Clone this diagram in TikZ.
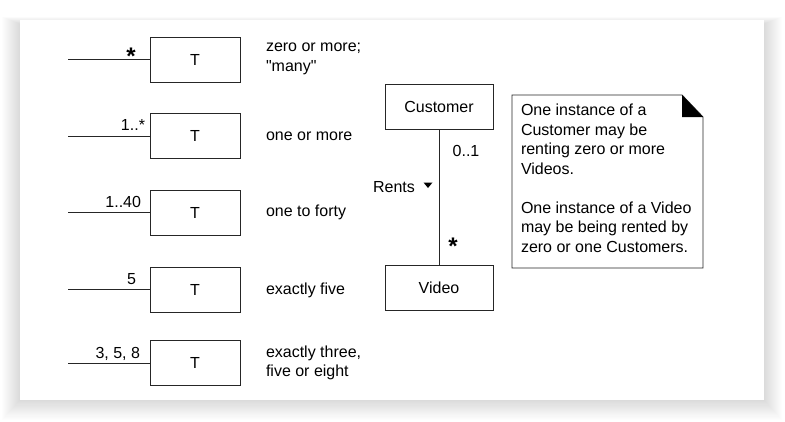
\documentclass[tikz,border=0pt]{standalone}
\usepackage{fontspec}
\setmainfont{Liberation Sans}[Ligatures=TeXOff]
\begin{document}
\begin{tikzpicture}[x=1pt,y=-1pt,
  every node/.style={inner sep=0pt,outer sep=0pt,font=\fontsize{16}{19.5}\selectfont},
  tbox/.style={draw=black!85,line width=0.9pt,minimum width=90pt,minimum height=45pt},
  cbox/.style={draw=black!85,line width=0.9pt,minimum width=108pt,minimum height=45pt},
  wire/.style={draw=black!85,line width=0.9pt},
  desc/.style={anchor=west,align=left},
  mult/.style={anchor=base east},
  bigstar/.style={font=\fontsize{24}{24}\selectfont\bfseries}]
\useasboundingbox (0,0) rectangle (785,421);
\fill[white] (0,0) rectangle (785,421);
\foreach \i in {1,...,18}{
  \fill[black,opacity=0.009] (20-\i,20-\i*0.4+4) rectangle (764+\i,400+\i*1.1);
}
\fill[white] (20,20) rectangle (764,400);

% T boxes
\foreach \i/\y in {1/59.5,2/136,3/212.5,4/289.5,5/363}{
  \node[tbox] (t\i) at (195,\y) {T};
  \coordinate (l\i) at (68,\y);
  \draw[wire] (l\i) -- (t\i.west);
}
% multiplicities
\node[bigstar,anchor=center] (m1) at (131,56) {*};
\node[mult] (m2) at (145,130) {1..*};
\node[mult] (m3) at (141,207.5) {1..40};
\node[mult] (m4) at (136,284.5) {5};
\node[mult] (m5) at (140,358) {3, 5, 8};
% descriptions
\node[desc] (d1) at (266,59) {zero or more;\\"many"};
\node[desc] (d2) at (266,136) {one or more};
\node[desc] (d3) at (266,212.5) {one to forty};
\node[desc] (d4) at (266,290) {exactly five};
\node[desc] (d5) at (266,363) {exactly three,\\five or eight};

% Customer / Video
\node[cbox] (cust) at (439,106.5) {Customer};
\node[cbox] (video) at (439,287.5) {Video};
\draw[wire] (cust) -- (video);
\node (zo) at (466,151) {0..1};
\node[bigstar] (vs) at (453,246) {*};
\node (rents) at (394,187) {Rents};
\fill[black] (423.5,182.5) -- (432.5,182.5) -- (428,188) -- cycle;

% note
\draw[wire] (512,95) -- (682,95) -- (703,117) -- (703,268) -- (512,268) -- cycle;
\fill[black] (682,95) -- (703,117) -- (682,117) -- cycle;
\node[anchor=north west,align=left] (note) at (521,104) {One instance of a\\Customer may be\\renting zero or more\\Videos.\\[19.5pt]One instance of a Video\\may be being rented by\\zero or one Customers.};
\end{tikzpicture}
\end{document}
